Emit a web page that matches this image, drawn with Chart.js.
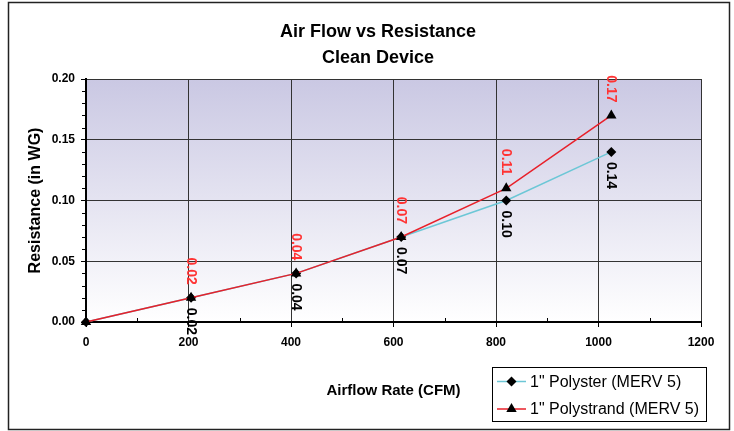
<!DOCTYPE html>
<html>
<head>
<meta charset="utf-8">
<script src="https://cdn.jsdelivr.net/npm/chart.js@4.4.0/dist/chart.umd.min.js"></script>
<style>
  html, body { margin: 0; padding: 0; background: #fff; }
  #wrap { width: 734px; height: 431px; }
</style>
</head>
<body>
<div id="wrap"><canvas id="chart1" width="734" height="431"></canvas></div>
<script>
// values
const airflow = [0, 205, 410, 615, 820, 1025];
const polyster = [0.00, 0.02, 0.04, 0.07, 0.10, 0.14];
const polystrand = [0.00, 0.02, 0.04, 0.07, 0.11, 0.17];
const seriesNames = ['1" Polyster (MERV 5)', '1" Polystrand (MERV 5)'];
const titleLines = ['Air Flow vs Resistance', 'Clean Device'];
const xTitle = 'Airflow Rate (CFM)';
const yTitle = 'Resistance (in WG)';

const FONT = '"Liberation Sans", Arial, sans-serif';
const cyan = '#6cc7d6';
const red = '#e8202a';

function toPoints(ys) {
  return airflow.map((x, i) => ({ x: x, y: ys[i] }));
}

// gradient fill behind the plot
const backdrop = {
  id: 'backdrop',
  beforeDraw(chart) {
    const { ctx, chartArea: a } = chart;
    ctx.save();
    ctx.fillStyle = '#fff';
    ctx.fillRect(0, 0, chart.width, chart.height);
    const g = ctx.createLinearGradient(0, a.top, 0, a.bottom);
    g.addColorStop(0, '#cac8e3');
    g.addColorStop(1, '#ffffff');
    ctx.fillStyle = g;
    ctx.fillRect(a.left, a.top, a.right - a.left, a.bottom - a.top);
    ctx.restore();
  }
};

// shift the title block so it centres like the original
const titleShift = {
  id: 'titleShift',
  afterLayout(chart) {
    if (chart.titleBlock) chart.titleBlock.left = 55;
  }
};

function drawMarker(ctx, style, x, y) {
  ctx.beginPath();
  if (style === 'rectRot') {
    ctx.moveTo(x, y - 5); ctx.lineTo(x + 5, y); ctx.lineTo(x, y + 5); ctx.lineTo(x - 5, y);
  } else {
    ctx.moveTo(x, y - 6); ctx.lineTo(x + 5.2, y + 3); ctx.lineTo(x - 5.2, y + 3);
  }
  ctx.closePath();
  ctx.fill();
}

const extras = {
  id: 'extras',
  afterDraw(chart) {
    const { ctx, chartArea: a, scales } = chart;
    const xs = scales.x, ys = scales.y;
    ctx.save();

    // minor ticks
    ctx.strokeStyle = '#000';
    ctx.lineWidth = 1;
    for (let v = 100; v < 1200; v += 200) {
      const px = Math.round(xs.getPixelForValue(v)) + 0.5;
      ctx.beginPath(); ctx.moveTo(px, a.bottom); ctx.lineTo(px, a.bottom - 4); ctx.stroke();
    }
    for (let i = 1; i < 20; i++) {
      if (i % 5 === 0) continue;
      const py = Math.round(ys.getPixelForValue(i / 100)) + 0.5;
      ctx.beginPath(); ctx.moveTo(a.left, py); ctx.lineTo(a.left - 4, py); ctx.stroke();
    }

    // value labels, rotated
    ctx.font = 'bold 14px ' + FONT;
    ctx.textBaseline = 'middle';
    chart.data.datasets.forEach((ds, di) => {
      const meta = chart.getDatasetMeta(di);
      meta.data.forEach((pt, i) => {
        if (i === 0) return;
        const txt = ds.data[i].y.toFixed(2);
        ctx.save();
        if (di === 1) {
          ctx.fillStyle = '#ff3333';
          ctx.translate(pt.x, pt.y - 13);
          ctx.rotate(Math.PI / 2);
          ctx.textAlign = 'right';
        } else {
          ctx.fillStyle = '#000';
          ctx.translate(pt.x, pt.y + 10);
          ctx.rotate(Math.PI / 2);
          ctx.textAlign = 'left';
        }
        ctx.fillText(txt, 0, 0);
        ctx.restore();
      });
    });

    // legend box
    const lx = 492.5, ly = 367.5, lw = 214, lh = 54;
    ctx.fillStyle = '#fff';
    ctx.fillRect(lx, ly, lw, lh);
    ctx.strokeStyle = '#000';
    ctx.lineWidth = 1;
    ctx.strokeRect(lx, ly, lw, lh);
    const rows = [381.5, 409];
    const cols = [cyan, red];
    const marks = ['rectRot', 'triangle'];
    ctx.font = '16px ' + FONT;
    ctx.textAlign = 'left';
    ctx.textBaseline = 'middle';
    seriesNames.forEach((name, i) => {
      const y = rows[i];
      ctx.strokeStyle = cols[i];
      ctx.lineWidth = 1.5;
      ctx.beginPath(); ctx.moveTo(497, y); ctx.lineTo(526, y); ctx.stroke();
      ctx.fillStyle = '#000';
      drawMarker(ctx, marks[i], 511.5, y);
      ctx.fillText(name, 530, y + 1);
    });

    // outer frame
    ctx.strokeStyle = '#222';
    ctx.lineWidth = 1.5;
    ctx.strokeRect(8.5, 2.5, 721, 427);
    ctx.restore();
  }
};

const ctx = document.getElementById('chart1').getContext('2d');
const chart = new Chart(ctx, {
  type: 'line',
  data: {
    datasets: [
      {
        label: seriesNames[0],
        data: toPoints(polyster),
        borderColor: cyan,
        borderWidth: 1.5,
        pointStyle: 'rectRot',
        pointRadius: 5,
        pointBackgroundColor: '#000',
        pointBorderColor: '#000',
        pointBorderWidth: 0,
        tension: 0,
        clip: false,
        order: 2
      },
      {
        label: seriesNames[1],
        data: toPoints(polystrand),
        borderColor: red,
        borderWidth: 1.5,
        pointStyle: 'triangle',
        pointRadius: 6,
        pointBackgroundColor: '#000',
        pointBorderColor: '#000',
        pointBorderWidth: 0,
        tension: 0,
        clip: false,
        order: 1
      }
    ]
  },
  options: {
    responsive: false,
    animation: false,
    devicePixelRatio: 1,
    layout: { padding: { left: 0, right: 33, top: 0, bottom: 0 } },
    plugins: {
      legend: { display: false },
      tooltip: { enabled: false },
      title: {
        display: true,
        text: titleLines,
        color: '#000',
        font: { family: FONT, size: 18, weight: 'bold', lineHeight: 1.45 },
        padding: { top: 18.5, bottom: 8.3 }
      }
    },
    scales: {
      x: {
        type: 'linear',
        min: 0,
        max: 1200,
        ticks: {
          stepSize: 200, color: '#000', padding: 8,
          font: { family: FONT, size: 12, weight: 'bold' },
          callback: v => String(v)
        },
        grid: { color: '#333', lineWidth: 1, tickLength: 5, tickColor: '#000' },
        border: { color: '#000', width: 2 },
        title: {
          display: true, text: xTitle, color: '#000',
          font: { family: FONT, size: 15, weight: 'bold' },
          padding: { top: 0, bottom: 31 }
        },
        afterFit(s) { s.height = 109; }
      },
      y: {
        min: 0,
        max: 0.2,
        ticks: {
          stepSize: 0.05, color: '#000', padding: 6,
          font: { family: FONT, size: 12, weight: 'bold' },
          callback: v => v.toFixed(2)
        },
        grid: { color: '#333', lineWidth: 1, tickLength: 5, tickColor: '#000' },
        border: { color: '#000', width: 2 },
        title: {
          display: true, text: yTitle, color: '#000',
          font: { family: FONT, size: 16, weight: 'bold' },
          padding: { top: 26, bottom: 0 }
        },
        afterFit(s) { s.width = 86; }
      }
    }
  },
  plugins: [backdrop, titleShift, extras]
});
</script>
</body>
</html>
